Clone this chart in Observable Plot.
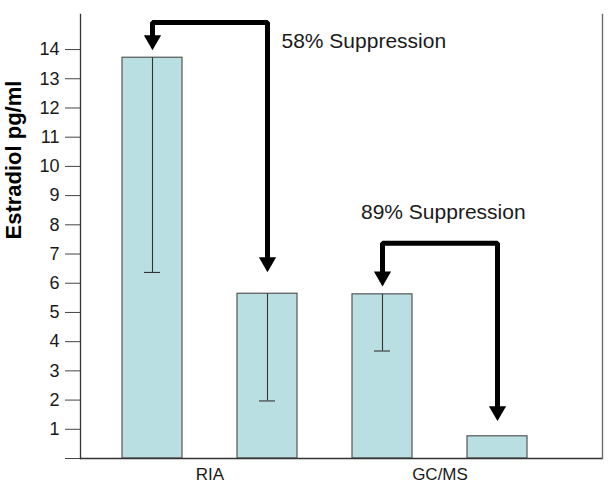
<!DOCTYPE html>
<html><head><meta charset="utf-8">
<script src="https://cdn.jsdelivr.net/npm/d3@7"></script>
<script src="https://cdn.jsdelivr.net/npm/@observablehq/plot@0.6"></script>
<style>body{margin:0;background:#fff}</style>
</head><body><div id="chart"></div>
<script>
// ---- data ----
const bars = ["RIA baseline", "RIA suppressed", "GC/MS baseline", "GC/MS suppressed"];
const groups = ["RIA", "RIA", "GC/MS", "GC/MS"];
const values = [13.72, 5.64, 5.62, 0.76];
const errorLow = [6.37, 1.97, 3.68, null];
const yTicks = [0, 1, 2, 3, 4, 5, 6, 7, 8, 9, 10, 11, 12, 13, 14];
const groupNames = ["RIA", "GC/MS"];
const groupFirstBar = ["RIA baseline", "GC/MS baseline"];
const arrowFrom = ["RIA baseline", "GC/MS baseline"];
const arrowTo = ["RIA suppressed", "GC/MS suppressed"];
const arrowTop = [14.93, 7.37];
const arrowTipFrom = [13.98, 5.89];
const arrowTipTo = [6.38, 1.28];
const suppressionText = ["58% Suppression", "89% Suppression"];
const suppressionY = [14.3, 8.42];

// ---- layout ----
const W = 612, H = 489, mt = 14, mb = 31, ml = 80, mr = 10, yMax = 15.2;
const pInner = 0.478, pOuter = 0.5085, align = 0.363;
const step = (W - ml - mr) / (bars.length - pInner + 2 * pOuter);
const pxPerUnit = (H - mt - mb) / yMax;
const headR = 6.4;
const headHalf = Math.sqrt(Math.PI * headR * headR / (3 * Math.sqrt(3)));

const data = bars.map((b, i) => ({bar: b, group: groups[i], value: values[i], low: errorLow[i]}));
const errData = data.filter(d => d.low != null);

const lineData = [];
const headData = [];
arrowFrom.forEach((f, i) => {
  const lift = (headHalf * 1.5) / pxPerUnit;
  lineData.push({arrow: i, x: f, y: arrowTipFrom[i] + lift});
  lineData.push({arrow: i, x: f, y: arrowTop[i]});
  lineData.push({arrow: i, x: arrowTo[i], y: arrowTop[i]});
  lineData.push({arrow: i, x: arrowTo[i], y: arrowTipTo[i] + lift});
  headData.push({x: f, y: arrowTipFrom[i]});
  headData.push({x: arrowTo[i], y: arrowTipTo[i]});
});

const chart = Plot.plot({
  width: W, height: H,
  marginTop: mt, marginBottom: mb, marginLeft: ml, marginRight: mr,
  style: {fontFamily: "'Liberation Sans', Arial, Helvetica, sans-serif", background: "#fff"},
  x: {type: "band", domain: bars, paddingInner: pInner, paddingOuter: pOuter, align: align, axis: null},
  y: {domain: [0, yMax]},
  marks: [
    Plot.frame({anchor: "left", stroke: "#333", strokeWidth: 1.3}),
    Plot.frame({anchor: "right", stroke: "#666", strokeWidth: 1.3}),
    Plot.barY(data, {x: "bar", y: "value", fill: "#badfe2", stroke: "#555", strokeWidth: 1.2}),
    Plot.ruleX(errData, {x: "bar", y1: "value", y2: "low", stroke: "#333", strokeWidth: 1.1}),
    Plot.tickY(errData, {x: "bar", y: "low", insetLeft: 22, insetRight: 22, stroke: "#333", strokeWidth: 1.1}),
    Plot.ruleY([0], {stroke: "#333", strokeWidth: 1.3}),
    Plot.axisY({ticks: yTicks, tickSize: 15, tickPadding: 6, fontSize: 18, color: "#1a1a1a", stroke: "#444",
      tickFormat: d => d === 0 ? "" : String(d), label: null}),
    Plot.line(lineData, {x: "x", y: "y", z: "arrow", stroke: "#000", strokeWidth: 5, strokeLinejoin: "miter", curve: "linear"}),
    Plot.dot(headData, {x: "x", y: "y", symbol: "triangle", r: headR, fill: "#000", stroke: null, rotate: 180, dy: -2 * headHalf}),
    Plot.text([suppressionText[0]], {x: () => arrowTo[0], y: () => suppressionY[0], text: d => d, textAnchor: "start", dx: 14, fontSize: 21, fill: "#1a1a1a"}),
    Plot.text([suppressionText[1]], {x: () => arrowFrom[1], y: () => suppressionY[1], text: d => d, textAnchor: "start", dx: -21.5, fontSize: 21, fill: "#1a1a1a"}),
    Plot.text(groupNames, {x: (d, i) => groupFirstBar[i], text: d => d, frameAnchor: "bottom", dx: step / 2, dy: 21, fontSize: 17, fill: "#1a1a1a"}),
    Plot.text(["Estradiol pg/ml"], {frameAnchor: "left", text: d => d, rotate: -90, dx: -66.5, dy: 3, fontSize: 22, fontWeight: "bold", fill: "#000"})
  ]
});
document.getElementById("chart").appendChild(chart);
</script>
</body></html>
